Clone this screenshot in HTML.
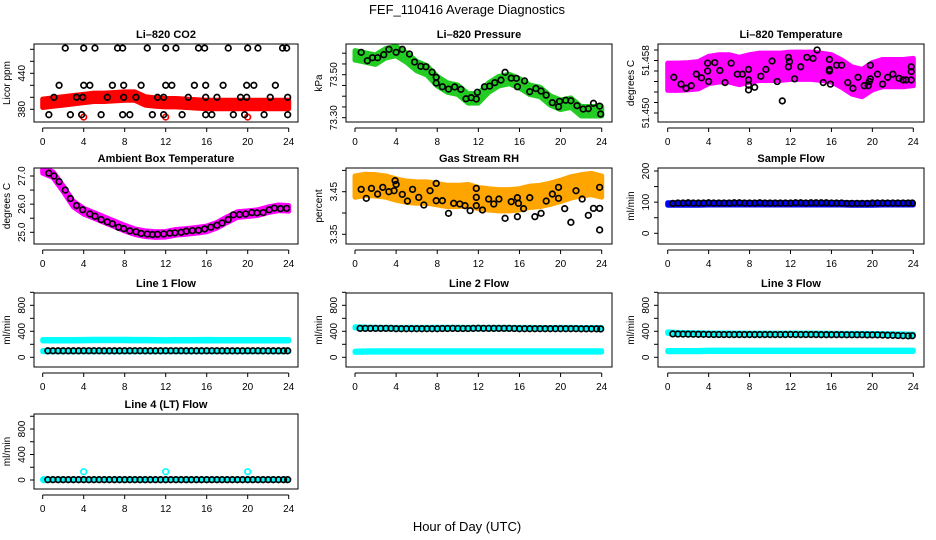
<!DOCTYPE html>
<html><head><meta charset="utf-8"><style>
html,body{margin:0;padding:0;background:#fff}
svg{display:block}
text{font-family:"Liberation Sans",sans-serif;fill:#000}
.t{font-size:11px;font-weight:bold}
.tk{font-size:10px}
</style></head><body>
<svg id="c" width="936" height="540" viewBox="0 0 936 540" xmlns="http://www.w3.org/2000/svg">
<text x="467" y="14" text-anchor="middle" style="font-size:13px">FEF_110416  Average Diagnostics</text>
<text x="467" y="531" text-anchor="middle" style="font-size:13px">Hour of Day (UTC)</text>
</svg>
<script>
// ---- shared hours ----
const bandHours = [0,1,2,3,4,5,6,7,8,9,10,11,12,13,14,15,16,17,18,19,20,21,22,23,24];
const halfHours = [0.5,1,1.5,2,2.5,3,3.5,4,4.5,5,5.5,6,6.5,7,7.5,8,8.5,9,9.5,10,10.5,11,11.5,12,12.5,13,13.5,14,14.5,15,15.5,16,16.5,17,17.5,18,18.5,19,19.5,20,20.5,21,21.5,22,22.5,23,23.5,23.9];
const xTicks = [0,4,8,12,16,20,24];

// ---- CO2 ----
const co2BandCenter = [390,392,394,396,398,400,400,401,402,402,394,392,391,391,390,389,388,388,388,388,388,388,388,388,388];
const co2AvgHours = [2.2,4,5.1,7.3,7.8,10.2,12,13,15.2,15.8,18.1,20,21,23.4,23.8, 1.6,4,4.6,6.8,7.9,9.6,12,12.6,14.8,15.9,17.6,19.9,20.6,22.7, 1.1,3.3,3.9,6.3,7.9,9.1,11.2,11.8,14.2,15.9,17,19.3,19.9,22.2,23.9, 0.6,2.7,3.8,5.7,7.8,8.5,10.7,11.8,13.6,15.9,16.5,18.6,19.7,21.6,23.9];
const co2AvgValues = [482,482,482,482,482,482,482,482,482,482,482,482,482,482,482, 420,420,420,420,420,420,420,420,420,420,420,420,420,420, 400,400,400,400,400,400,400,400,400,400,400,400,400,400,400, 371,371,371,371,371,371,371,371,371,371,371,371,371,371,371];
const co2RawHours = [4,12,20];
const co2RawValues = [367,367,367];

// ---- Pressure ----
const presBandCenter = [73.59,73.58,73.57,73.60,73.61,73.58,73.54,73.52,73.47,73.44,73.43,73.39,73.39,73.44,73.47,73.48,73.46,73.43,73.42,73.38,73.36,73.37,73.33,73.33,73.33];
const presAvgHours = [0.6,1.2,1.7,2.2,2.8,3.3,4,4.6,5.3,5.8,6.4,6.9,7.5,7.9,7.9,8.5,9.1,9.7,10.3,10.8,11.3,11.8,11.9,12.6,13.1,13.6,14.2,14.6,15.2,15.7,15.8,16.5,17,17.6,18.1,18.6,19.2,19.8,19.9,20.5,21,21.6,22.2,22.7,23.2,23.8,23.9];
const presAvgValues = [73.604,73.565,73.579,73.579,73.593,73.618,73.604,73.618,73.596,73.559,73.539,73.537,73.512,73.488,73.461,73.444,73.433,73.443,73.432,73.388,73.393,73.387,73.418,73.444,73.447,73.463,73.475,73.511,73.484,73.483,73.444,73.471,73.421,73.436,73.424,73.405,73.370,73.351,73.376,73.381,73.379,73.356,73.340,73.342,73.367,73.354,73.317];

// ---- Li-820 Temperature ----
const tempBandCenter = [51.4569,51.4569,51.4570,51.4572,51.4582,51.4585,51.4585,51.4580,51.4585,51.4588,51.4588,51.4588,51.4590,51.4590,51.4590,51.4588,51.4585,51.4575,51.4562,51.4557,51.4570,51.4576,51.4576,51.4576,51.4578];
const tempAvgHours = [0.6,1.3,1.8,2.3,2.8,3.3,3.9,3.9,4,4.6,5.1,5.6,6.2,6.8,7.3,7.9,7.9,7.9,7.9,8.5,9.1,9.6,10.2,10.7,11.2,11.8,11.8,11.9,12.4,13,13.6,14.2,14.6,15.2,15.8,15.8,15.8,15.9,16.5,17,17.6,18.1,18.6,19.2,19.6,19.7,19.8,19.8,20.5,21,21.5,22,22.6,23,23.3,23.8,23.8,23.8];
const tempAvgValues = [51.4568,51.4555,51.4547,51.4552,51.4574,51.4567,51.4580,51.4595,51.4560,51.4596,51.4581,51.4558,51.4595,51.4574,51.4574,51.4583,51.4563,51.4553,51.4544,51.4549,51.4570,51.4583,51.4599,51.4560,51.4523,51.4588,51.4606,51.4598,51.4565,51.4588,51.4606,51.4604,51.4620,51.4558,51.4602,51.4583,51.4580,51.4555,51.4591,51.4591,51.4558,51.4547,51.4568,51.4552,51.4552,51.4560,51.4565,51.4591,51.4574,51.4555,51.4568,51.4574,51.4566,51.4563,51.4563,51.4588,51.4579,51.4563];

// ---- Ambient ----
const ambBandCenter = [27.2,27.05,26.55,26.0,25.75,25.6,25.45,25.3,25.15,25.02,24.95,24.92,24.93,25.0,25.03,25.07,25.12,25.25,25.45,25.63,25.66,25.7,25.8,25.87,25.85];
const ambAvgHours = [0.6,1.1,1.6,2.2,2.7,3.3,3.9,4.6,5.1,5.7,6.3,6.8,7.4,7.9,8.5,9.1,9.6,10.2,10.7,11.2,11.8,12.4,12.9,13.5,14,14.6,15.2,15.8,16.4,17,17.5,18.1,18.6,19.2,19.8,20.4,20.9,21.5,22.1,22.6,23.2,23.8];
const ambAvgValues = [27.1,27.0,26.8,26.5,26.2,25.95,25.8,25.65,25.57,25.45,25.37,25.3,25.18,25.13,25.05,25.02,24.96,24.94,24.92,24.93,24.94,24.97,24.98,25.0,25.04,25.06,25.07,25.12,25.18,25.25,25.33,25.45,25.62,25.63,25.65,25.7,25.69,25.7,25.8,25.86,25.84,25.85];

// ---- Gas RH ----
const rhBandCenter = [3.462,3.466,3.465,3.462,3.455,3.450,3.448,3.448,3.444,3.440,3.440,3.442,3.435,3.432,3.430,3.430,3.432,3.438,3.440,3.445,3.452,3.460,3.465,3.468,3.462];
const rhAvgHours = [0.6,1.1,1.6,2.2,2.7,3.3,3.8,3.9,4,4.6,5.1,5.6,6.2,6.7,7.3,7.9,7.9,8.5,9.1,9.6,10.2,10.7,11.2,11.8,11.8,11.8,12.4,13,13.5,14,14.6,15.2,15.8,15.9,15.8,16.4,17,17.5,18.1,18.6,19.2,19.8,19.8,20.4,21,21.5,22.1,22.7,23.2,23.8,23.8,23.8];
const rhAvgValues = [3.4555,3.4344,3.4578,3.4445,3.4602,3.4500,3.4523,3.4758,3.4672,3.4438,3.4281,3.4555,3.4367,3.4188,3.4523,3.4695,3.4289,3.4289,3.3992,3.4227,3.4211,3.4172,3.4055,3.4578,3.4367,3.4172,3.4070,3.4328,3.4211,3.4328,3.3875,3.4266,3.4359,3.4227,3.3914,3.4102,3.4359,3.3914,3.3992,3.4281,3.4445,3.4344,3.4602,3.4102,3.3781,3.4523,3.4328,3.3945,3.4109,3.4109,3.4602,3.3602];

// ---- Flows ----
const sampleBand = [94,94,94,94,95,95,95,95,95,95,95,95,95,95,95,95,95,95,94,94,94,95,95,95,95];
const sampleAvg = [96,97,97,98,97,97,97,98,97,97,97,97,98,98,97,97,97,98,97,97,97,97,97,97,98,98,97,98,98,98,98,97,97,97,96,96,96,96,96,97,97,97,97,97,97,97,97,97];
const line1BandHigh = [262,262,262,262,264,266,266,266,266,264,264,262,260,262,262,262,264,262,262,262,262,262,262,262,262];
const line1BandLow = [95,95,95,95,95,95,95,95,95,95,95,95,95,95,95,95,95,95,95,95,95,95,95,95,95];
const line1Avg = [100,100,100,100,100,100,100,101,101,101,101,100,100,100,100,101,101,101,101,100,100,100,100,101,101,101,101,100,100,100,100,101,101,101,100,100,100,100,100,101,101,101,100,100,100,100,100,100];
const line2BandHigh = [460,455,452,450,450,450,450,450,452,452,452,450,450,450,450,450,450,450,448,448,450,450,448,448,448];
const line2BandLow = [85,88,90,90,90,90,90,90,90,90,90,90,90,90,90,90,90,90,90,90,90,90,90,90,90];
const line2Avg = [445,445,445,445,445,445,445,440,440,440,440,440,440,440,440,440,443,443,445,443,443,443,445,447,445,445,445,445,445,445,443,440,440,440,440,440,440,440,440,440,440,440,440,438,438,438,438,436];
const line3BandHigh = [380,372,368,365,362,362,362,360,360,360,360,360,360,360,360,360,358,356,356,356,355,352,350,348,345];
const line3BandLow = [95,95,95,95,100,100,100,100,100,100,100,100,100,100,100,100,100,100,100,100,100,100,100,100,100];
const line3Avg = [360,358,357,356,355,354,353,352,351,351,350,350,350,350,350,350,350,350,350,350,350,350,350,352,350,350,350,350,350,348,348,348,348,348,347,347,347,347,345,345,345,342,340,338,335,332,330,332];
const line4Band = [5,5,5,5,5,5,5,5,5,5,5,5,5,5,5,5,5,5,5,5,5,5,5,5,5];
const line4Avg = [5,5,5,5,5,5,5,5,5,5,5,5,5,5,5,5,5,5,5,5,5,5,5,5,5,5,5,5,5,5,5,5,5,5,5,5,5,5,5,5,5,5,5,5,5,5,5,5];
const line4RawHours = [0.1,4,12,20];
const line4RawValues = [5,130,130,130];

const NS = 'http://www.w3.org/2000/svg';
const svg = document.getElementById('c');
function mk(tag, attrs, parent){ const e=document.createElementNS(NS,tag); for(const k in attrs) e.setAttribute(k,attrs[k]); (parent||svg).appendChild(e); return e; }

const cols = [{L:34,R:298,x0:42.7,x24:288.7},{L:346,R:612,x0:355,x24:601.7},{L:658,R:924,x0:667.7,x24:913.3}];
const rows = [{T:44,B:122},{T:168,B:244},{T:293,B:367},{T:414,B:489}];

function panel(name, title, ylab, c, r, yA, yB, ticks, tickLabels){
  const col=cols[c], row=rows[r];
  const g = mk('g',{});
  
  
  const xs = h => col.x0 + (col.x24-col.x0)*h/24;
  const ys = v => yA[1] + (v-yA[0])*(yB[1]-yA[1])/(yB[0]-yA[0]);
  const clipId = 'clip'+name;
  const cp = mk('clipPath',{id:clipId},g);
  mk('rect',{x:col.L,y:row.T,width:col.R-col.L,height:row.B-row.T},cp);
  const plot = mk('g',{'clip-path':'url(#'+clipId+')'},g);
  const t = mk('text',{x:(col.L+col.R)/2,y:row.T-6,'text-anchor':'middle',class:'t'},g);
  t.textContent = title;
  
  
  const yl = mk('text',{transform:'translate('+(col.L-24)+','+((row.T+row.B)/2)+') rotate(-90)','text-anchor':'middle',class:'tk'},g);
  yl.textContent = ylab;
  
  
  const yt = ticks.map(ys);
  mk('line',{x1:col.L,x2:col.L,y1:Math.min(...yt),y2:Math.max(...yt),stroke:'#000','stroke-width':1},g);
  ticks.forEach((v,i)=>{
    const y=ys(v);
    mk('line',{x1:col.L-4,x2:col.L,y1:y,y2:y,stroke:'#000','stroke-width':1},g);
    if(tickLabels[i]){
      const tl = mk('text',{transform:'translate('+(col.L-9)+','+y+') rotate(-90)','text-anchor':'middle',class:'tk'},g);
      tl.textContent = tickLabels[i];
      
      
    }
  });
  const ay = row.B+6;
  mk('line',{x1:xs(0),x2:xs(24),y1:ay,y2:ay,stroke:'#000','stroke-width':1},g);
  xTicks.forEach(h=>{
    mk('line',{x1:xs(h),x2:xs(h),y1:ay,y2:ay+4,stroke:'#000','stroke-width':1},g);
    const xl = mk('text',{x:xs(h),y:ay+17,'text-anchor':'middle',class:'tk'},g);
    xl.textContent = h;
    
    
  });
  mk('rect',{x:col.L,y:row.T,width:col.R-col.L,height:row.B-row.T,fill:'none',stroke:'#000','stroke-width':1},g);
  return {
    band(center, hw, color){
      let d='M';
      bandHours.forEach((h,i)=>{ d+=xs(h)+','+ys(center[i]+hw)+' L'; });
      for(let i=bandHours.length-1;i>=0;i--){ d+=xs(bandHours[i])+','+ys(center[i]-hw)+(i?' L':' Z'); }
      const p = mk('path',{d:d,fill:color,stroke:color,'stroke-width':5,'stroke-linejoin':'round'},plot);
      
      
    },
    pts(hours, vals, color, r, sw){
      hours.forEach((h,i)=>{
        const e = mk('circle',{cx:xs(h),cy:ys(vals[i]),r:r||2.8,fill:'none',stroke:color,'stroke-width':sw||1.7},plot);
        
        
      });
    }
  };
}

let p;
p = panel('co2-panel','Li\u2013820 CO2','Licor ppm',0,0,[380,109.3],[440,73.3],[380,400,420,440,460,480],['380','','','440','','']);
p.band(co2BandCenter,7,'#ff0000'); p.pts(co2RawHours,co2RawValues,'#ff0000'); p.pts(co2AvgHours,co2AvgValues,'#000');

p = panel('pressure-panel','Li\u2013820 Pressure','kPa',1,0,[73.30,117.7],[73.50,74.7],[73.30,73.35,73.40,73.45,73.50,73.55,73.60],['73.30','','','','73.50','','']);
p.band(presBandCenter,0.022,'#22cc22'); p.pts(presAvgHours,presAvgValues,'#000');

p = panel('li820-temp-panel','Li\u2013820 Temperature','degrees C',2,0,[51.450,113],[51.452,102.5],[51.450,51.452,51.454,51.456,51.458,51.460,51.462],['51.450','','','','','51.458','']);
p.band(tempBandCenter,0.0026,'#ff00ff'); p.pts(tempAvgHours,tempAvgValues,'#000');

p = panel('ambient-temp-panel','Ambient Box Temperature','degrees C',0,1,[25.0,232.3],[27.0,176],[25,25.5,26,26.5,27],['25.0','','26.0','','27.0']);
p.band(ambBandCenter,0.1,'#ff00ff'); p.pts(ambAvgHours,ambAvgValues,'#000');

p = panel('rh-panel','Gas Stream RH','percent',1,1,[3.35,234.3],[3.45,191.7],[3.35,3.40,3.45,3.50],['3.35','','3.45','']);
p.band(rhBandCenter,0.025,'#ffa500'); p.pts(rhAvgHours,rhAvgValues,'#000');

p = panel('sample-flow-panel','Sample Flow','ml/min',2,1,[0,233.3],[200,171],[0,50,100,150,200],['0','','100','','200']);
p.band(sampleBand,4,'#0000ff'); p.pts(halfHours,sampleAvg,'#000');

const flowTicks=[0,200,400,600,800,1000], flowLabels=['0','','400','','800',''];
p = panel('line1-flow-panel','Line 1 Flow','ml/min',0,2,[0,357.3],[800,305.3],flowTicks,flowLabels);
p.band(line1BandHigh,12,'#00ffff'); p.band(line1BandLow,10,'#00ffff'); p.pts(halfHours,line1Avg,'#000');

p = panel('line2-flow-panel','Line 2 Flow','ml/min',1,2,[0,357.3],[800,305.3],flowTicks,flowLabels);
p.band(line2BandHigh,10,'#00ffff'); p.band(line2BandLow,10,'#00ffff'); p.pts(halfHours,line2Avg,'#000');

p = panel('line3-flow-panel','Line 3 Flow','ml/min',2,2,[0,357.3],[800,305.3],flowTicks,flowLabels);
p.band(line3BandHigh,12,'#00ffff'); p.band(line3BandLow,10,'#00ffff'); p.pts(halfHours,line3Avg,'#000');

p = panel('line4-flow-panel','Line 4 (LT) Flow','ml/min',0,3,[0,480],[800,429],flowTicks,flowLabels);
p.band(line4Band,6,'#00ffff'); p.pts(line4RawHours,line4RawValues,'#00ffff'); p.pts(halfHours,line4Avg,'#000');
</script>
</body></html>
